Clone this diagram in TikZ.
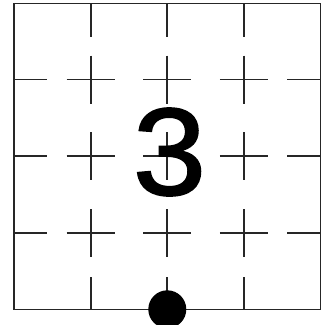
\documentclass[tikz,border=0pt]{standalone}
\usepackage{fontspec}
\setmainfont{Liberation Sans}
\newfontfamily\digitfont[FakeBold=1.5]{Liberation Sans}
\begin{document}
\begin{tikzpicture}[x=1pt,y=-1pt,
  gridline/.style={line width=1.8pt,color=black!85},
  digit/.style={font=\digitfont\fontsize{124}{124}\selectfont,inner sep=0pt,text=black,xscale=1.06},
  stone/.style={circle,fill=black,minimum size=38pt,inner sep=0pt}]
\useasboundingbox (0,0) rectangle (325,325);
\fill[white] (0,0) rectangle (325,325);
% border
\draw[gridline] (14,3.5) rectangle (320.5,309.5);
% interior crosses
\foreach \x in {90.7,167.3,244}{
  \foreach \y in {79.5,156,233}{
    \draw[gridline] (\x-24,\y) -- (\x+24,\y) (\x,\y-24) -- (\x,\y+24);
  }
}
% edge stubs (vertical lines)
\foreach \x in {90.7,167.3,244}{
  \draw[gridline] (\x,3.5) -- (\x,36.5) (\x,309.5) -- (\x,276.5);
}
% edge stubs (horizontal lines)
\foreach \y in {79.5,156,233}{
  \draw[gridline] (14,\y) -- (47.5,\y) (320.5,\y) -- (287,\y);
}
\node[digit] (three) at (169.5,152) {3};
\node[stone] (dot) at (167.3,309.3) {};
\end{tikzpicture}
\end{document}
